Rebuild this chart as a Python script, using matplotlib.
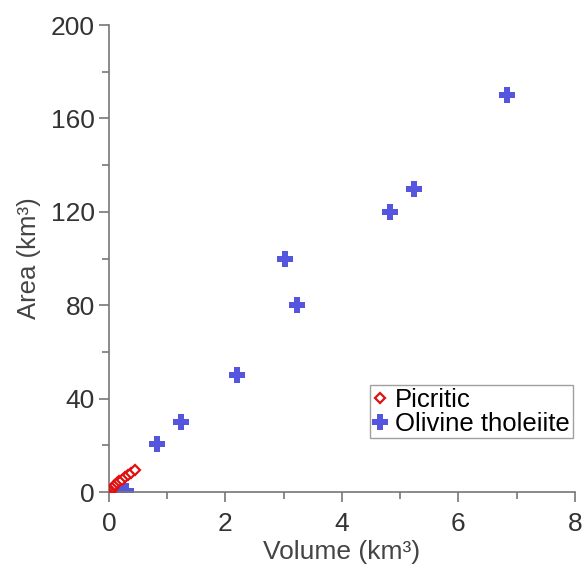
import numpy as np
import matplotlib.pyplot as plt
from matplotlib.ticker import MultipleLocator

plt.rcParams['font.family'] = ['Liberation Sans', 'DejaVu Sans']

# Picritic flows (volume km3, area km2)
pic_vol = [0.03, 0.05, 0.07, 0.09, 0.11, 0.14, 0.18, 0.22, 0.27, 0.32, 0.38, 0.45]
pic_area = [0.5, 1.2, 2.0, 2.6, 3.2, 3.8, 4.6, 5.4, 6.3, 7.2, 8.3, 9.6]

# Olivine tholeiite flows
ot_vol = [0.08, 0.12, 0.3, 0.82, 1.23, 2.2, 3.02, 3.23, 4.82, 5.23, 6.83]
ot_area = [0.5, 1.5, 0.5, 20.5, 30, 50, 100, 80, 120, 130, 170]

fig = plt.figure(figsize=(5.86, 5.69), dpi=100)
ax = fig.add_axes([0.186, 0.135, 0.795, 0.821])

ax.plot(ot_vol, ot_area, linestyle='none', marker='P', markersize=12,
        color='#5555dd', markeredgewidth=0, label='Olivine tholeiite', zorder=2)
ax.plot(pic_vol, pic_area, linestyle='none', marker='D', markersize=5,
        markerfacecolor='white', markeredgecolor='#e01010', markeredgewidth=1.6,
        label='Picritic', zorder=3)

ax.set_xlim(0, 8)
ax.set_ylim(0, 200)
ax.xaxis.set_major_locator(MultipleLocator(2))
ax.xaxis.set_minor_locator(MultipleLocator(1))
ax.yaxis.set_major_locator(MultipleLocator(40))
ax.yaxis.set_minor_locator(MultipleLocator(20))

for s in ['top', 'right']:
    ax.spines[s].set_visible(False)
for s in ['left', 'bottom']:
    ax.spines[s].set_color('#777777')
    ax.spines[s].set_linewidth(1.2)

ax.tick_params(which='both', direction='out', colors='#777777', labelcolor='#333333',
               labelsize=19)
ax.tick_params(which='major', length=7, width=1.2)
ax.tick_params(axis='y', which='major', pad=3)
ax.tick_params(axis='x', which='major', pad=7)
ax.tick_params(which='minor', length=5, width=1.2)

ax.set_xlabel('Volume (km³)', fontsize=19, color='#444444', labelpad=3)
ax.set_ylabel('Area (km³)', fontsize=18.5, color='#444444', labelpad=7)

handles, labels = ax.get_legend_handles_labels()
leg = ax.legend(handles[::-1], labels[::-1], loc='lower right',
                bbox_to_anchor=(0.995, 0.115), fontsize=18.5, frameon=True,
                fancybox=False, edgecolor='#888888', handlelength=0.6,
                handletextpad=0.3, borderpad=0.1, labelspacing=0.0,
                borderaxespad=0)

fig.savefig('out.png', dpi=100)
